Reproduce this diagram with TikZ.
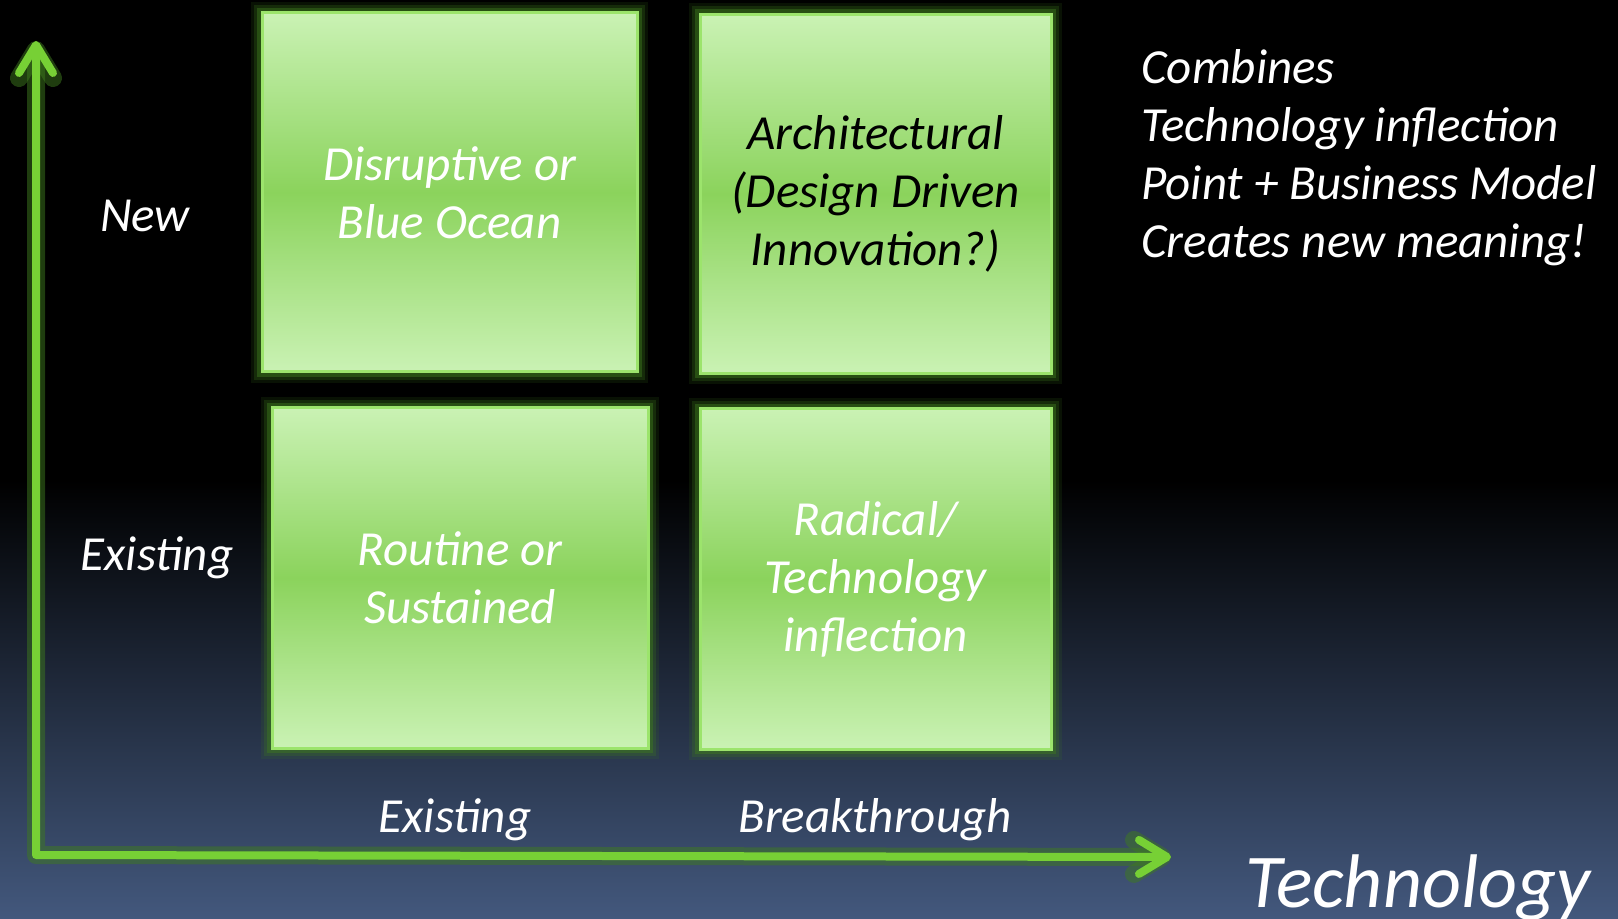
\documentclass[tikz,border=0pt]{standalone}
\usepackage{fontspec}
\setmainfont{Carlito}
\usetikzlibrary{arrows.meta,positioning,calc}
\definecolor{figgreen}{HTML}{77D035}
\definecolor{figglow}{HTML}{3E7A1E}
\definecolor{boxlight}{HTML}{CAF2B4}
\definecolor{boxmid}{HTML}{8BD35C}
\definecolor{boxedge}{HTML}{9CE46C}
\definecolor{bgbottom}{HTML}{43587D}
\tikzset{
  quad/.style={
    rectangle, draw=boxedge, line width=1.5pt,
    top color=boxlight, bottom color=boxlight, middle color=boxmid,
    preaction={draw=figglow, line width=11pt, opacity=0.15},
    preaction={draw=figglow, line width=8pt, opacity=0.25},
    preaction={draw=figglow, line width=5pt, opacity=0.45},
    inner sep=0pt, align=center, text=white,
    font=\fontsize{24.5}{29}\selectfont\itshape
  },
  axislabel/.style={
    anchor=base, inner sep=0pt, text=white,
    font=\fontsize{24.5}{29}\selectfont\itshape
  },
  axis/.style={
    {Straight Barb[length=14pt, width=17pt, round]}-{Straight Barb[length=14pt, width=17pt, round]},
    line width=4pt, draw=figgreen, line join=round
  },
  axisglow/.style={
    axis, line width=9pt, draw=figglow, opacity=0.5
  }
}

\begin{document}
\begin{tikzpicture}[x=0.5pt, y=-0.5pt]

  % Frame and background
  \useasboundingbox (0,0) rectangle (1618,919);
  \fill[black] (0,0) rectangle (1618,919);
  \shade[top color=black, bottom color=bgbottom] (0,480) rectangle (1618,919);

  % Axes
  \coordinate (origin) at (36,855);
  \coordinate (ytip) at (36,41);
  \coordinate (xtip) at (1171,857);
  \draw[axisglow] (ytip) -- (origin) -- (xtip);
  \draw[axis] (ytip) -- (origin) -- (xtip);

  % Quadrants
  \node[quad, minimum width=187.5pt, minimum height=179.5pt] (disrupt) at (449.5,192.5)
    {Disruptive or\\Blue Ocean};
  \node[quad, minimum width=175.5pt, minimum height=179.5pt, text=black] (arch) at (875.5,194)
    {Architectural\\(Design Driven\\Innovation?)};
  \node[quad, minimum width=188pt, minimum height=170pt] (routine) at (460,578)
    {Routine or\\Sustained};
  \node[quad, minimum width=175.5pt, minimum height=170pt] (radical) at (875.5,579)
    {Radical/\\Technology\\inflection};

  % Axis labels
  \node[axislabel] (ynew) at (145,232) {New};
  \node[axislabel] (yold) at (157,571) {Existing};
  \node[axislabel] (xold) at (455,832) {Existing};
  \node[axislabel] (xnew) at (875,832) {Breakthrough};
  \node[axislabel, font=\fontsize{38}{44}\selectfont\itshape] (xname) at (1418,907) {Technology};

  % Note on the right
  \node[axislabel, anchor=north west, align=left] (note) at (1141,49)
    {Combines\\Technology inflection\\Point + Business Model\\Creates new meaning!};

\end{tikzpicture}
\end{document}
